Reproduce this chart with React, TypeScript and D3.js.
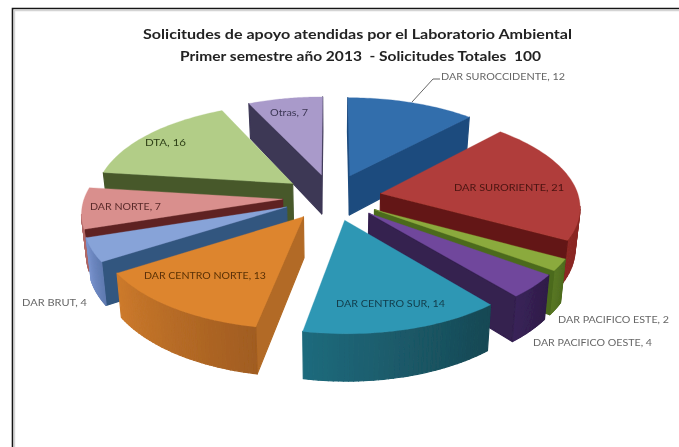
import React from "react";
import * as d3 from "d3";

const names = ["DAR SUROCCIDENTE", "DAR SURORIENTE", "DAR PACIFICO ESTE", "DAR PACIFICO OESTE", "DAR CENTRO SUR", "DAR CENTRO NORTE", "DAR BRUT", "DAR NORTE", "DTA", "Otras"];
const values = [12, 21, 2, 4, 14, 13, 4, 7, 16, 7];
const topColors = ["#336EAC", "#B03E3A", "#8BAA3C", "#6F479C", "#2F97B4", "#DD852E", "#87A3D8", "#D98F8D", "#B2CD87", "#A99ACA"];
const cutColors = ["#1F4C7E", "#641815", "#4C6A1E", "#34204F", "#1B5B6D", "#B26A25", "#33567F", "#5F2323", "#47592C", "#3C3755"];
const wallStart = ["#24568C", "#7C211D", "#4F6C20", "#2F1C48", "#174753", "#A05C20", "#5F7AB0", "#A85E5C", "#7F9A55", "#7A6C9A"];
const wallEnd = ["#24568C", "#8C2925", "#5A7826", "#3A2459", "#1F6A7C", "#CC7A2C", "#7892CC", "#C47C7A", "#8FAB63", "#8A7CAA"];
const labelColors = ["#666666", "#4A1512", "#666666", "#666666", "#123C4A", "#5A3008", "#666666", "#5A2A2A", "#2F4018", "#3C3755"];
const titleLines = ["Solicitudes de apoyo atendidas por el Laboratorio Ambiental", "Primer semestre año 2013  - Solicitudes Totales  100"];

// layout of the drawing (not data)
const W = 679, H = 447;
const cx = 332, cy = 197, radiusPx = 198, vScale = 93, persp = 0.125, depth = 40, explode = 0.25;
const labelBox: [number, number, number][] = [
  [441, 565, 80], [454, 564, 191], [558, 669, 323], [533, 652, 346], [336, 445, 307],
  [144, 266, 279], [22, 87, 306], [90, 161, 210], [145, 186, 146], [270, 308, 116],
];
const titleBox: [number, number, number][] = [[143, 572, 39], [180, 541, 61]];

type P = [number, number];
const sx = d3.scaleLinear().domain([0, 1]).range([cx, cx + radiusPx]);
const sy = d3.scaleLinear().domain([0, 1]).range([cy, cy + vScale]);
const project = (u: number, v: number, z: number): P => {
  const s = 1 / (1 - persp * v);
  const x = sx(u * s);
  return [cx + (x - cx) * (1 - 0.02 * z), sy(v * s) + depth * s * z];
};
const path = d3.line<P>().curve(d3.curveLinearClosed);
const arcs = d3.pie<number>().sort(null).value((d) => d)(values);

type Face = { d: string; fill: string };
function sliceFaces(i: number): { faces: Face[]; order: number } {
  const a = arcs[i];
  const mid = (a.startAngle + a.endAngle) / 2;
  const ou = explode * Math.sin(mid), ov = -explode * Math.cos(mid);
  const steps = d3.range(0, 41).map((k) => a.startAngle + ((a.endAngle - a.startAngle) * k) / 40);
  const rim: [number, number][] = steps.map((t) => [ou + Math.sin(t), ov - Math.cos(t)]);
  const outline: [number, number][] = [[ou, ov], ...rim];
  const faces: Face[] = [];
  const colorAt = d3.interpolateRgb(wallStart[i], wallEnd[i]);
  outline.forEach((p, k) => {
    const q = outline[(k + 1) % outline.length];
    const t0 = project(p[0], p[1], 0), t1 = project(q[0], q[1], 0);
    if (t1[0] >= t0[0]) return;
    const isCut = k === 0 || k === outline.length - 1;
    const fill = isCut ? cutColors[i] : colorAt(k / 40);
    const quad: P[] = [t0, t1, project(q[0], q[1], 1), project(p[0], p[1], 1)];
    faces.push({ d: path(quad)!, fill });
  });
  faces.push({ d: path(outline.map((p) => project(p[0], p[1], 0)))!, fill: topColors[i] });
  return { faces, order: -Math.cos(mid) };
}

const slices = names.map((_, i) => ({ i, ...sliceFaces(i) })).sort((a, b) => a.order - b.order);

export default function App() {
  return (
    <svg width={W} height={H} style={{ position: "fixed", left: 0, top: 0, background: "#fff" }}>
      <defs>
        <filter id="soft" x="-5%" y="-5%" width="110%" height="110%">
          <feGaussianBlur stdDeviation="0.7" />
        </filter>
        <filter id="softText" x="-5%" y="-20%" width="110%" height="140%">
          <feGaussianBlur stdDeviation="0.45" />
        </filter>
      </defs>
      <rect x={0} y={0} width={W} height={H} fill="#fff" />
      <path d={`M12.5 ${H} V8.5 H${W}`} fill="none" stroke="#151515" strokeWidth={1.6} />
      <path d={`M14.5 ${H} V10.5 H${W}`} fill="none" stroke="#d4d4d4" strokeWidth={1.4} />
      <g filter="url(#soft)">
        {slices.map((s) => (
          <g key={s.i}>
            {s.faces.map((f, k) => (
              <path key={k} d={f.d} fill={f.fill} stroke={f.fill} strokeWidth={k === s.faces.length - 1 ? 0.3 : 1.2} strokeLinejoin="round" />
            ))}
          </g>
        ))}
        <path d="M440 79 H433 L412 102" fill="none" stroke="#666" strokeWidth={1} />
      </g>
      <g filter="url(#softText)" fontFamily="Lato, 'Open Sans', sans-serif">
        {titleLines.map((t, i) => (
          <text key={i} x={titleBox[i][0]} y={titleBox[i][2]} fontSize={13} fontWeight={700} fill="#222"
            textLength={titleBox[i][1] - titleBox[i][0]} lengthAdjust="spacingAndGlyphs" xmlSpace="preserve">{t}</text>
        ))}
        {names.map((n, i) => (
          <text key={n} x={labelBox[i][0]} y={labelBox[i][2]} fontSize={9.5} fill={labelColors[i]}
            textLength={labelBox[i][1] - labelBox[i][0]} lengthAdjust="spacingAndGlyphs">{`${n}, ${values[i]}`}</text>
        ))}
      </g>
    </svg>
  );
}
